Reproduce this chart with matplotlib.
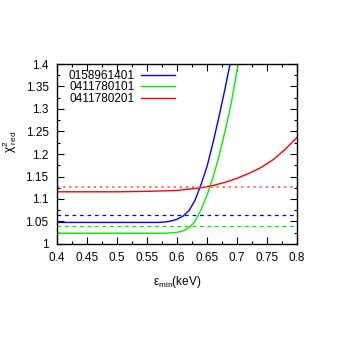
"""Reduced chi-square vs minimum energy threshold for three observations"""
import matplotlib
matplotlib.use("Agg")
import matplotlib.pyplot as plt
from matplotlib.ticker import MultipleLocator

plt.rcParams['font.family'] = ['Liberation Sans', 'DejaVu Sans']

# 0158961401
blue_x = [0.4, 0.45, 0.5, 0.55, 0.57, 0.58, 0.59, 0.6, 0.61, 0.62, 0.63, 0.64, 0.65, 0.66, 0.67, 0.68, 0.69]
blue_y = [1.048, 1.048, 1.048, 1.048, 1.048, 1.049, 1.051, 1.055, 1.062, 1.074, 1.097, 1.132, 1.172, 1.225, 1.283, 1.345, 1.41]
blue_ref = 1.064

# 0411780101
green_x = [0.4, 0.5, 0.55, 0.58, 0.59, 0.6, 0.61, 0.62, 0.63, 0.64, 0.65, 0.66, 0.67, 0.68, 0.69, 0.70, 0.71]
green_y = [1.024, 1.024, 1.024, 1.024, 1.025, 1.026, 1.029, 1.036, 1.050, 1.076, 1.108, 1.148, 1.195, 1.25, 1.31, 1.385, 1.46]
green_ref = 1.040

# 0411780201
red_x = [0.4, 0.5, 0.55, 0.6, 0.62, 0.64, 0.66, 0.68, 0.70, 0.72, 0.74, 0.76, 0.78, 0.8]
red_y = [1.116, 1.116, 1.117, 1.119, 1.122, 1.125, 1.130, 1.137, 1.146, 1.157, 1.170, 1.187, 1.210, 1.237]
red_ref = 1.127

labels = ['0158961401', '0411780101', '0411780201']

fig = plt.figure(figsize=(3.6, 3.37), dpi=100)
ax = fig.add_axes([57 / 360, 1 - 244 / 337, 240 / 360, 180 / 337])

ax.plot(blue_x, blue_y, color='#0000ff', lw=1.0, label=labels[0])
ax.plot(green_x, green_y, color='#00ee00', lw=1.0, label=labels[1])
ax.plot(red_x, red_y, color='#ff0000', lw=1.0, label=labels[2])

ax.axhline(blue_ref, color='#0000ff', lw=0.9, ls=(0, (3, 3)))
ax.axhline(green_ref, color='#00ee00', lw=0.9, ls=(0, (3, 3)))
ax.axhline(red_ref, color='#ff6060', lw=1.3, ls=(0, (1.2, 2.2)))

ax.set_xlim(0.4, 0.8)
ax.set_ylim(1.0, 1.4)
ax.xaxis.set_minor_locator(MultipleLocator(0.025))
ax.yaxis.set_minor_locator(MultipleLocator(0.025))
ax.set_xticks([0.4, 0.45, 0.5, 0.55, 0.6, 0.65, 0.7, 0.75, 0.8])
ax.set_xticklabels(['0.4', '0.45', '0.5', '0.55', '0.6', '0.65', '0.7', '0.75', '0.8'])
ax.set_yticks([1.0, 1.05, 1.1, 1.15, 1.2, 1.25, 1.3, 1.35, 1.4])
ax.set_yticklabels(['1', '1.05', '1.1', '1.15', '1.2', '1.25', '1.3', '1.35', '1.4'])
ax.tick_params(which='both', direction='in', top=True, right=True, labelsize=8.5, pad=6)
ax.tick_params(which='major', length=5, width=0.8)
ax.tick_params(which='minor', length=2.5, width=0.8)
for s in ax.spines.values():
    s.set_linewidth(1.0)

ax.set_xlabel(r'$\mathregular{\epsilon_{min}}$(keV)', fontsize=8.5, labelpad=7)
ax.set_ylabel(r'$\mathregular{\chi^2_{\ red}}$', fontsize=8.5)
ax.yaxis.set_label_coords(-0.16, 0.57)

leg = ax.legend(loc='upper left', bbox_to_anchor=(0.025, 1.0), frameon=False,
                fontsize=8.5, markerfirst=False, handlelength=2.9, handletextpad=0.5,
                labelspacing=-0.05, borderaxespad=0.45, borderpad=0.05)

fig.savefig('out.png', dpi=100)
